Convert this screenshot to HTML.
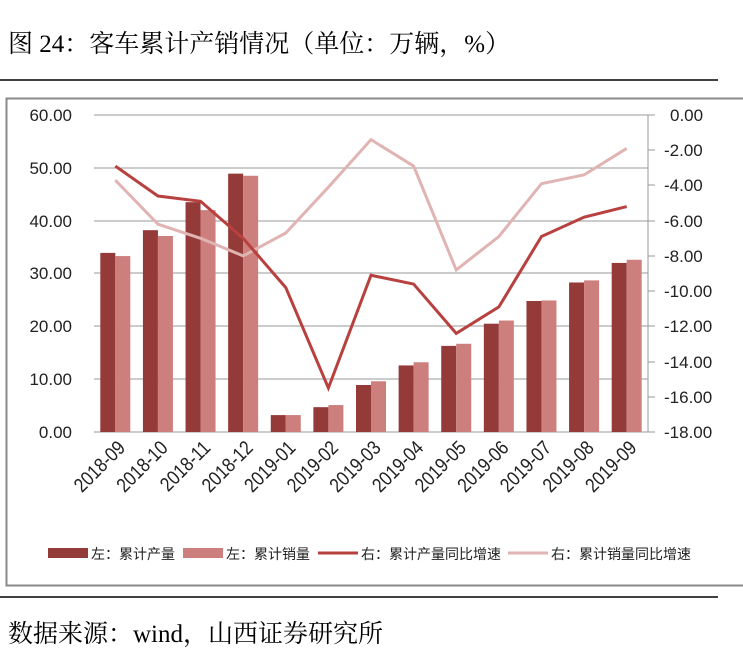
<!DOCTYPE html>
<html><head><meta charset="utf-8"><style>
body{margin:0;background:#fff;width:743px;height:666px;overflow:hidden;font-family:"Liberation Serif","Noto Serif CJK SC",serif}
</style></head><body>
<svg width="743" height="666" xmlns="http://www.w3.org/2000/svg">
<text x="8" y="52" font-size="25" font-family="Liberation Serif,Noto Serif CJK SC,serif" fill="#000">图 24：客车累计产销情况（单位：万辆，%）</text>
<line x1="0" y1="80" x2="718" y2="80" stroke="#000" stroke-width="1.5"/>
<rect x="6.5" y="98.5" width="740" height="487" fill="none" stroke="#888" stroke-width="2"/>
<g stroke="#999" stroke-width="1">
<line x1="94" y1="115" x2="648" y2="115"/><line x1="94" y1="168" x2="648" y2="168"/><line x1="94" y1="221" x2="648" y2="221"/><line x1="94" y1="273" x2="648" y2="273"/><line x1="94" y1="326" x2="648" y2="326"/><line x1="94" y1="379" x2="648" y2="379"/><line x1="94" y1="432" x2="655" y2="432"/>
<line x1="648" y1="115" x2="648" y2="432"/>
<line x1="648" y1="115" x2="655" y2="115"/><line x1="648" y1="150" x2="655" y2="150"/><line x1="648" y1="185" x2="655" y2="185"/><line x1="648" y1="221" x2="655" y2="221"/><line x1="648" y1="256" x2="655" y2="256"/><line x1="648" y1="291" x2="655" y2="291"/><line x1="648" y1="326" x2="655" y2="326"/><line x1="648" y1="362" x2="655" y2="362"/><line x1="648" y1="397" x2="655" y2="397"/>
</g>
<g font-size="17" font-family="Liberation Sans,sans-serif" fill="#222" text-anchor="end">
<text x="72" y="121">60.00</text><text x="72" y="174">50.00</text><text x="72" y="227">40.00</text><text x="72" y="279">30.00</text><text x="72" y="332">20.00</text><text x="72" y="385">10.00</text><text x="72" y="438">0.00</text>
</g>
<g font-size="17" font-family="Liberation Sans,sans-serif" fill="#222">
<text x="670" y="121">0.00</text><text x="664" y="156">-2.00</text><text x="664" y="191">-4.00</text><text x="664" y="227">-6.00</text><text x="664" y="262">-8.00</text><text x="664" y="297">-10.00</text><text x="664" y="332">-12.00</text><text x="664" y="368">-14.00</text><text x="664" y="403">-16.00</text><text x="664" y="438">-18.00</text>
</g>
<g id="bars"></g>
<g id="xl" font-size="19" font-family="Liberation Sans,sans-serif" fill="#222" text-anchor="end"></g>
<polyline id="l2" fill="none" stroke="#e0b4b2" stroke-width="3"/>
<polyline id="l1" fill="none" stroke="#b8413f" stroke-width="3"/>
<g font-size="14" font-family="Liberation Sans,Noto Sans CJK SC,sans-serif" fill="#222">
<rect x="48" y="548" width="40" height="10" fill="#943a38"/><text x="91" y="559">左：累计产量</text>
<rect x="183" y="548" width="40" height="10" fill="#cd7f7d"/><text x="226" y="559">左：累计销量</text>
<line x1="318" y1="553" x2="358" y2="553" stroke="#b8413f" stroke-width="3"/><text x="361" y="559">右：累计产量同比增速</text>
<line x1="508" y1="553" x2="548" y2="553" stroke="#e0b4b2" stroke-width="3"/><text x="551" y="559">右：累计销量同比增速</text>
</g>
<line x1="0" y1="597" x2="718" y2="597" stroke="#000" stroke-width="1.5"/>
<text x="8" y="642" font-size="25" font-family="Liberation Serif,Noto Serif CJK SC,serif" fill="#000">数据来源：wind，山西证券研究所</text>
</svg>
<script>
var p=[33.9,38.2,43.5,48.9,3.2,4.7,8.9,12.6,16.3,20.5,24.8,28.3,32.0];
var s=[33.3,37.1,42.0,48.5,3.2,5.1,9.6,13.2,16.7,21.1,24.9,28.7,32.6];
var gp=[-2.9,-4.6,-4.9,-7.0,-9.8,-15.5,-9.1,-9.6,-12.4,-10.9,-6.9,-5.8,-5.2];
var gs=[-3.7,-6.2,-7.0,-8.0,-6.7,-4.1,-1.4,-2.9,-8.8,-6.9,-3.9,-3.4,-1.9];
var labs=["2018-09","2018-10","2018-11","2018-12","2019-01","2019-02","2019-03","2019-04","2019-05","2019-06","2019-07","2019-08","2019-09"];
var ns="http://www.w3.org/2000/svg",b=document.getElementById("bars"),xl=document.getElementById("xl");
var w=(648-94)/13,a1="",a2="";
function Y(v){return 432-v*317/60}function R(v){return 115-v*317/18}
for(var i=0;i<13;i++){var c=94+w*(i+.5);
[[p[i],"#943a38",c-15],[s[i],"#cd7f7d",c]].forEach(function(d){var r=document.createElementNS(ns,"rect");r.setAttribute("x",d[2]);r.setAttribute("width",15);r.setAttribute("y",Y(d[0]));r.setAttribute("height",432-Y(d[0]));r.setAttribute("fill",d[1]);b.appendChild(r);});
var t=document.createElementNS(ns,"text");t.textContent=labs[i];t.setAttribute("transform","translate("+(c+11)+",449) rotate(-45) scale(0.9,1.05)");xl.appendChild(t);
a1+=c+","+R(gp[i])+" ";a2+=c+","+R(gs[i])+" ";}
document.getElementById("l1").setAttribute("points",a1);document.getElementById("l2").setAttribute("points",a2);
</script>
</body></html>
